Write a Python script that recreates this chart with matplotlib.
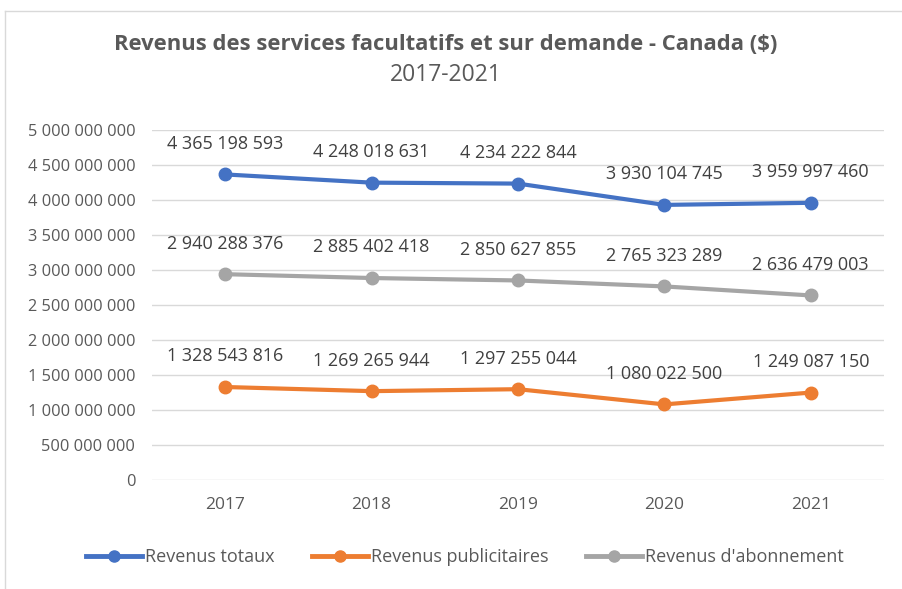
import matplotlib
matplotlib.use('Agg')
import matplotlib.pyplot as plt
from matplotlib import ticker
from matplotlib.lines import Line2D

years = ['2017', '2018', '2019', '2020', '2021']
rev_totaux = [4365198593, 4248018631, 4234222844, 3930104745, 3959997460]
rev_pub = [1328543816, 1269265944, 1297255044, 1080022500, 1249087150]
rev_abo = [2940288376, 2885402418, 2850627855, 2765323289, 2636479003]
series_names = ['Revenus totaux', 'Revenus publicitaires', "Revenus d'abonnement"]

plt.rcParams['font.family'] = ['Open Sans', 'DejaVu Sans']
txt = '#595959'

def fmt(v):
	return '{:,}'.format(int(v)).replace(',', ' ')

fig = plt.figure(figsize=(9.03, 5.89), dpi=100)
ax = fig.add_axes([152/903, 1-480/589, (884-152)/903, 350/589])

x = list(range(len(years)))
series = [(rev_totaux, '#4472C4'), (rev_abo, '#A5A5A5'), (rev_pub, '#ED7D31')]
for vals, col in series:
	ax.plot(x, vals, color=col, linewidth=3, marker='o', markersize=9, solid_capstyle='round', zorder=3)
	for xi, v in zip(x, vals):
		ax.annotate(fmt(v), xy=(xi, v), xytext=(0, 22), textcoords='offset points',
					ha='center', va='center', fontsize=13, color='#404040')

ax.set_xlim(-0.5, len(years) - 0.5)
ax.set_ylim(0, 5e9)
ax.yaxis.set_major_locator(ticker.MultipleLocator(5e8))
ax.yaxis.set_major_formatter(ticker.FuncFormatter(lambda v, p: fmt(v)))
ax.set_xticks(x)
ax.set_xticklabels(years)
ax.grid(axis='y', color='#D9D9D9', linewidth=1)
ax.set_axisbelow(True)
for s in ax.spines.values():
	s.set_visible(False)
ax.tick_params(axis='y', length=0, labelsize=11.8, colors=txt, pad=12)
ax.tick_params(axis='x', length=0, labelsize=12.5, colors=txt, pad=12)

fig.text(446/903, 1-45/589, 'Revenus des services facultatifs et sur demande - Canada ($)',
		 ha='center', va='center', fontsize=15.8, fontweight='bold', color=txt)
fig.text(446/903, 1-75/589, '2017-2021', ha='center', va='center', fontsize=16.5, color=txt)

handles = [Line2D([], [], color=c, linewidth=3.5, marker='o', markersize=8)
		   for c in ['#4472C4', '#ED7D31', '#A5A5A5']]
fig.legend(handles, series_names, loc='center', bbox_to_anchor=(465/903, 1-557/589), ncol=3,
		   frameon=False, fontsize=13, labelcolor=txt, handlelength=3.1, handletextpad=0.15,
		   columnspacing=2.1)

# chart border
fig.add_artist(Line2D([5/903, 5/903], [0, 1-11/589], transform=fig.transFigure, color='#D9D9D9', linewidth=1))
fig.add_artist(Line2D([5/903, 1], [1-11/589, 1-11/589], transform=fig.transFigure, color='#D9D9D9', linewidth=1))

fig.savefig('out.png', dpi=100)
